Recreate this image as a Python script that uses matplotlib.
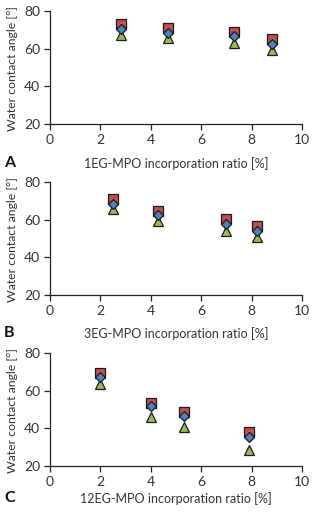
import matplotlib
matplotlib.use("Agg")
import matplotlib.pyplot as plt

plt.rcParams['font.family'] = ['Lato', 'DejaVu Sans']

# Panel A: 1EG-MPO
x_a = [2.8, 4.7, 7.3, 8.8]
red_a = [73.2, 71.0, 68.8, 65.2]
blue_a = [70.3, 68.5, 66.5, 62.4]
green_a = [67.3, 65.8, 63.2, 59.3]

# Panel B: 3EG-MPO
x_b = [2.5, 4.3, 7.0, 8.2]
red_b = [71.2, 64.6, 60.3, 56.6]
blue_b = [68.5, 62.8, 57.6, 54.0]
green_b = [65.8, 59.6, 54.1, 50.9]

# Panel C: 12EG-MPO
x_c = [2.0, 4.0, 5.3, 7.9]
red_c = [69.5, 53.8, 48.6, 37.9]
blue_c = [67.4, 51.7, 46.5, 35.7]
green_c = [63.9, 46.2, 40.7, 28.5]

panel_letters = ["A", "B", "C"]
xlabels = ["1EG-MPO incorporation ratio [%]",
           "3EG-MPO incorporation ratio [%]",
           "12EG-MPO incorporation ratio [%]"]
ylabel = "Water contact angle [°]"
xticks = [0, 2, 4, 6, 8, 10]
yticks = [20, 40, 60, 80]

panels = [(x_a, red_a, blue_a, green_a),
          (x_b, red_b, blue_b, green_b),
          (x_c, red_c, blue_c, green_c)]

fig = plt.figure(figsize=(3.12, 5.12), dpi=100)
W, H = 312, 512
boxes = [(50, 11, 302, 124), (50, 182.3, 302, 295), (50, 353.3, 302, 466)]
label_y = [164, 334, 498.5]

red = "#C0504D"
blue = "#4F81BD"
green = "#9BBB59"
edge = "#1a1a1a"
txt = "#333333"

for i, ((xs, r, b, g), (l, t, rr, bb)) in enumerate(zip(panels, boxes)):
    ax = fig.add_axes([l / W, 1 - bb / H, (rr - l) / W, (bb - t) / H])
    ax.plot(xs, r, linestyle='none', marker='s', ms=7.2, mfc=red, mec=edge, mew=0.9, zorder=3)
    ax.plot(xs, g, linestyle='none', marker='^', ms=7.5, mfc=green, mec=edge, mew=0.9, zorder=4)
    ax.plot(xs, b, linestyle='none', marker='D', ms=5.2, mfc=blue, mec=edge, mew=0.9, zorder=5)
    ax.set_xlim(0, 10)
    ax.set_ylim(20, 80)
    ax.set_xticks(xticks)
    ax.set_yticks(yticks)
    for s in ['top', 'right']:
        ax.spines[s].set_visible(False)
    for s in ['left', 'bottom']:
        ax.spines[s].set_color('#222222')
        ax.spines[s].set_linewidth(0.9)
    ax.tick_params(axis='both', direction='out', length=4, width=0.9,
                   labelsize=10, colors='#222222', labelcolor=txt, pad=3)
    ax.set_ylabel(ylabel, fontsize=8.8, color=txt)
    ax.yaxis.set_label_coords(-0.128, 0.49)
    fig.text(176 / W, 1 - label_y[i] / H, xlabels[i], fontsize=9, color=txt,
             ha='center', va='center')
    fig.text(4 / W, 1 - (label_y[i] - 1) / H, panel_letters[i], fontsize=11.5,
             fontweight='bold', color='#111111', ha='left', va='center')

fig.savefig("out.png", dpi=100)
